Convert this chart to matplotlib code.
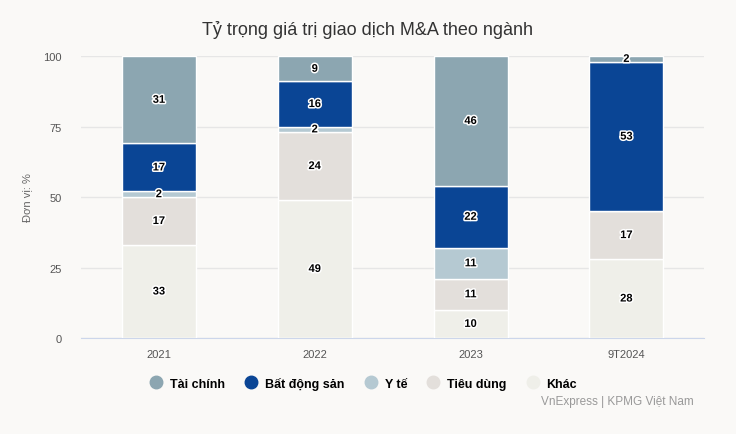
import matplotlib.pyplot as plt
import matplotlib.patheffects as pe
import numpy as np

plt.rcParams['font.family'] = ['Liberation Sans', 'DejaVu Sans']

years = ['2021', '2022', '2023', '9T2024']
series = ['Khác', 'Tiêu dùng', 'Y tế', 'Bất động sản', 'Tài chính']
khac = [33, 49, 10, 28]
tieu_dung = [17, 24, 11, 17]
y_te = [2, 2, 11, 0]
bat_dong_san = [17, 16, 22, 53]
tai_chinh = [31, 9, 46, 2]
colors = ['#efefe9', '#e3dfdb', '#b5c9d2', '#0a4595', '#8ca6b1']

data = [khac, tieu_dung, y_te, bat_dong_san, tai_chinh]
bg = '#faf9f7'

fig = plt.figure(figsize=(7.36, 4.35), dpi=100, facecolor=bg)
ax = fig.add_axes([0.110, 0.2207, 0.847, 0.648], facecolor=bg)

x = np.arange(len(years))
bottom = np.zeros(len(years))
for name, vals, c in zip(series, data, colors):
    vals = np.array(vals, dtype=float)
    ax.bar(x, vals, bottom=bottom, width=0.475, color=c,
           edgecolor='white', linewidth=1, zorder=3)
    for xi, v, b in zip(x, vals, bottom):
        if v > 0:
            ax.text(xi, b + v / 2, f"{int(v)}", ha='center', va='center',
                    fontsize=8, fontweight='bold', color='black', zorder=5,
                    path_effects=[pe.withStroke(linewidth=2.2, foreground='white')])
    bottom += vals

ax.set_xlim(-0.5, len(years) - 0.5)
ax.set_ylim(0, 100)
ax.set_yticks([0, 25, 50, 75, 100])
ax.set_xticks(x)
ax.set_xticklabels(years)
ax.tick_params(axis='both', length=0, labelsize=8, colors='#555555')
ax.tick_params(axis='x', pad=8)
ax.tick_params(axis='y', pad=14)
ax.grid(axis='y', color='#e6e6e6', linewidth=1, zorder=0)
for s in ['top', 'right', 'left']:
    ax.spines[s].set_visible(False)
ax.spines['bottom'].set_color('#ccd6eb')
ax.set_ylabel('Đơn vị: %', fontsize=8, color='#666666', labelpad=8)

fig.text(0.5, 0.93, 'Tỷ trọng giá trị giao dịch M&A theo ngành', ha='center',
         va='center', fontsize=13, color='#333333')

order = ['Tài chính', 'Bất động sản', 'Y tế', 'Tiêu dùng', 'Khác']
handles = [plt.Line2D([], [], marker='o', linestyle='', markersize=9,
                      color=colors[series.index(n)]) for n in order]
fig.legend(handles, order, loc='center', bbox_to_anchor=(0.494, 0.117), ncol=5,
           frameon=False, handlelength=1.0, handletextpad=0.6,
           columnspacing=1.6, prop={'weight': 'bold', 'size': 9})

fig.text(0.943, 0.075, 'VnExpress | KPMG Việt Nam', ha='right', va='center',
         fontsize=8.5, color='#999999')

fig.savefig('out.png', dpi=100, facecolor=bg)
